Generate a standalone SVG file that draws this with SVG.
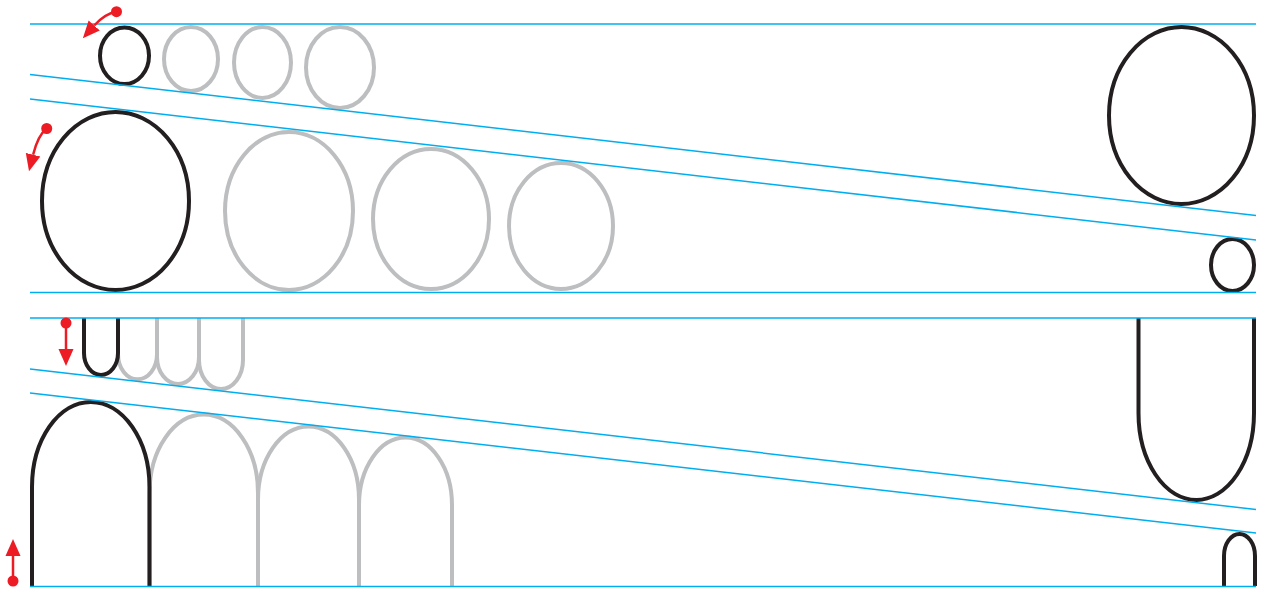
<svg xmlns="http://www.w3.org/2000/svg" width="1264" height="589" viewBox="0 0 1264 589">
<style>
.blk{fill:none;stroke:#231f20;stroke-width:4}
.gry{fill:none;stroke:#bcbec0;stroke-width:4}
.gd{fill:none;stroke:#00aeef;stroke-width:1.5}
.arr{fill:none;stroke:#ed1c24;stroke-width:2.5;marker-end:url(#ah)}
.dot{fill:#ed1c24}
</style>
<defs>
<marker id="ah" markerUnits="userSpaceOnUse" markerWidth="18" markerHeight="16" refX="0" refY="7.5" orient="auto" viewBox="0 0 18 15">
<path d="M0,0 L17,7.5 L0,15 z" fill="#ed1c24"/>
</marker>
</defs>
<rect width="1264" height="589" fill="#fff"/>

<g id="top-small-ellipses">
<ellipse class="gry" cx="191" cy="59" rx="27" ry="32"/>
<ellipse class="gry" cx="262.5" cy="62.5" rx="28.5" ry="35.5"/>
<ellipse class="gry" cx="340" cy="67.5" rx="34" ry="40.5"/>
<ellipse id="small-black-left" class="blk" cx="124.5" cy="55.7" rx="24.5" ry="28.3"/>
</g>
<g id="top-big-ellipses">
<ellipse class="gry" cx="289" cy="211" rx="64" ry="79"/>
<ellipse class="gry" cx="431" cy="219" rx="58" ry="70"/>
<ellipse class="gry" cx="561" cy="226" rx="52" ry="63"/>
<ellipse id="big-black-left" class="blk" cx="115.5" cy="201" rx="73.5" ry="89"/>
</g>
<g id="top-right-ellipses">
<ellipse class="blk" cx="1181.5" cy="115.5" rx="72.5" ry="88.5"/>
<ellipse class="blk" cx="1232.5" cy="265" rx="21.5" ry="26"/>
</g>

<g id="bottom-small-us">
<path class="gry" d="M118,318 V354.3 A19.5,25 0 0 0 157,354.3 V318"/>
<path class="gry" d="M157,318 V357 A21,27 0 0 0 199,357 V318"/>
<path class="gry" d="M199,318 V360 A22,29 0 0 0 243,360 V318"/>
<path id="small-black-u" class="blk" d="M84,318 V353 A17,22 0 0 0 118,353 V318"/>
</g>
<g id="bottom-arches">
<path class="gry" d="M149.5,586 V493 A54.25,78.5 0 0 1 258,493 V586"/>
<path class="gry" d="M258,586 V499.5 A50.5,73 0 0 1 359,499.5 V586"/>
<path class="gry" d="M359,586 V505 A46.5,67.5 0 0 1 452,505 V586"/>
<path id="big-black-arch" class="blk" d="M32,586 V487 A58.75,85 0 0 1 149.5,487 V586"/>
</g>
<g id="bottom-right-shapes">
<path class="blk" d="M1138.5,318 V413 A57.75,87 0 0 0 1254,413 V318"/>
<path class="blk" d="M1224,586 V556 A15.5,22 0 0 1 1255,556 V586"/>
</g>

<g id="guides">
<line class="gd" x1="30" y1="24" x2="1256" y2="24"/>
<line class="gd" x1="30" y1="74.5" x2="1256" y2="215.5"/>
<line class="gd" x1="30" y1="99" x2="1256" y2="240"/>
<line class="gd" x1="30" y1="292.5" x2="1256" y2="292.5"/>
<line class="gd" x1="30" y1="318" x2="1256" y2="318"/>
<line class="gd" x1="30" y1="369" x2="1256" y2="509.5"/>
<line class="gd" x1="30" y1="393" x2="1256" y2="533"/>
<line class="gd" x1="30" y1="586.5" x2="1256" y2="586.5"/>
</g>

<g id="connectors">
<path class="arr" d="M116.5,11.7 C108,13 100,19 94.2,25.5"/>
<circle class="dot" cx="116.5" cy="11.7" r="5.5"/>
<path class="arr" d="M46.7,128.5 C41,133 36,143 33.1,154.7"/>
<circle class="dot" cx="46.7" cy="128.5" r="5.5"/>
<path class="arr" d="M66,323 V349"/>
<circle class="dot" cx="66" cy="323" r="5.5"/>
<path class="arr" d="M13,581 V556"/>
<circle class="dot" cx="13" cy="581" r="5.5"/>
</g>
</svg>
